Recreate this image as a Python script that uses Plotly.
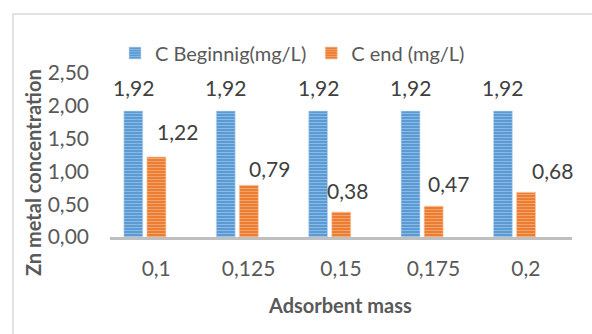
import plotly.graph_objects as go

# Zn concentration before / after adsorption, by adsorbent mass
categories = ["0,1", "0,125", "0,15", "0,175", "0,2"]
c_begin = [1.92, 1.92, 1.92, 1.92, 1.92]
c_end = [1.22, 0.79, 0.38, 0.47, 0.68]

series_names = ["C Beginnig(mg/L)", "C end (mg/L)"]

# per-label nudges (px) for the end-concentration labels
end_label_dx = [21, 21, 6, 15, 26]
end_label_dy = [25, 17, 22, 23, 22]

W, H = 592, 334
L, R, T, B = 110, 20, 73, 97
pw, ph = W - L - R, H - T - B

xs = list(range(len(categories)))
bar_w = 0.205
off_begin = -0.35
off_end = -0.10

FONT = "Lato"
NUM_SIZE = 21
fig = go.Figure()

fig.add_trace(go.Bar(
    x=xs, y=c_begin, name=series_names[0],
    width=bar_w, offset=off_begin,
    marker=dict(
        color="#5B9BD5",
        line=dict(color="#C9DDF0", width=0.6),
        pattern=dict(shape="-", fillmode="overlay", fgcolor="#BDD7EE",
                     size=3, solidity=0.35),
    ),
))
fig.add_trace(go.Bar(
    x=xs, y=c_end, name=series_names[1],
    width=bar_w, offset=off_end,
    marker=dict(
        color="#ED7D31",
        line=dict(color="#F6C7A6", width=0.6),
        pattern=dict(shape="-", fillmode="overlay", fgcolor="#F8CBAD",
                     size=3, solidity=0.35),
    ),
))


def fmt(v):
    return f"{v:.2f}".replace(".", ",")


annotations = []
for i, v in enumerate(c_begin):
    annotations.append(dict(
        x=i + off_begin + bar_w / 2, y=v, xref="x", yref="y",
        text=fmt(v), showarrow=False, yanchor="middle", xanchor="center",
        yshift=24, font=dict(family=FONT, size=NUM_SIZE, color="#404040"),
    ))
for i, v in enumerate(c_end):
    annotations.append(dict(
        x=i + off_end + bar_w / 2, y=v, xref="x", yref="y",
        text=fmt(v), showarrow=False, yanchor="middle", xanchor="center",
        xshift=end_label_dx[i], yshift=end_label_dy[i],
        font=dict(family=FONT, size=NUM_SIZE, color="#404040"),
    ))


def px_x(p):
    return (p - L) / pw


def px_y(p):
    return (H - B - p) / ph


annotations.append(dict(
    x=px_x(33), y=px_y(173), xref="paper", yref="paper",
    text="<b>Zn metal concentration</b>", textangle=-90, showarrow=False,
    xanchor="center", yanchor="middle",
    font=dict(family=FONT, size=20, color="#595959"),
))
annotations.append(dict(
    x=px_x(340), y=px_y(305), xref="paper", yref="paper",
    text="<b>Adsorbent mass</b>", showarrow=False,
    xanchor="center", yanchor="middle",
    font=dict(family=FONT, size=20, color="#595959"),
))

shapes = [
    # chart frame
    dict(type="rect", xref="paper", yref="paper",
         x0=px_x(13), x1=px_x(W + 20), y0=px_y(H + 20), y1=px_y(14),
         line=dict(color="#D9D9D9", width=1.5), fillcolor="rgba(0,0,0,0)",
         layer="below"),
]

fig.update_layout(
    width=W, height=H,
    margin=dict(l=L, r=R, t=T, b=B, pad=0),
    paper_bgcolor="white", plot_bgcolor="white",
    barmode="overlay",
    separators=", ",
    showlegend=True,
    legend=dict(
        orientation="h", x=px_x(115), y=px_y(53),
        xanchor="left", yanchor="middle",
        font=dict(family=FONT, size=20, color="#595959"),
        bgcolor="rgba(0,0,0,0)", borderwidth=0,
    ),
    xaxis=dict(
        range=[-0.5, len(categories) - 0.5],
        tickvals=xs, ticktext=categories,
        showgrid=False, zeroline=False,
        showline=True, linecolor="#BFBFBF", linewidth=3,
        ticks="", ticklabelstandoff=11,
        tickfont=dict(family=FONT, size=NUM_SIZE, color="#595959"),
    ),
    yaxis=dict(
        range=[0, 2.5], tickvals=[0, 0.5, 1, 1.5, 2, 2.5],
        tickformat=".2f",
        showgrid=False, zeroline=False, showline=False,
        ticks="", ticklabelstandoff=20,
        tickfont=dict(family=FONT, size=NUM_SIZE, color="#595959"),
    ),
    annotations=annotations,
    shapes=shapes,
)

fig.write_html("out.html")
